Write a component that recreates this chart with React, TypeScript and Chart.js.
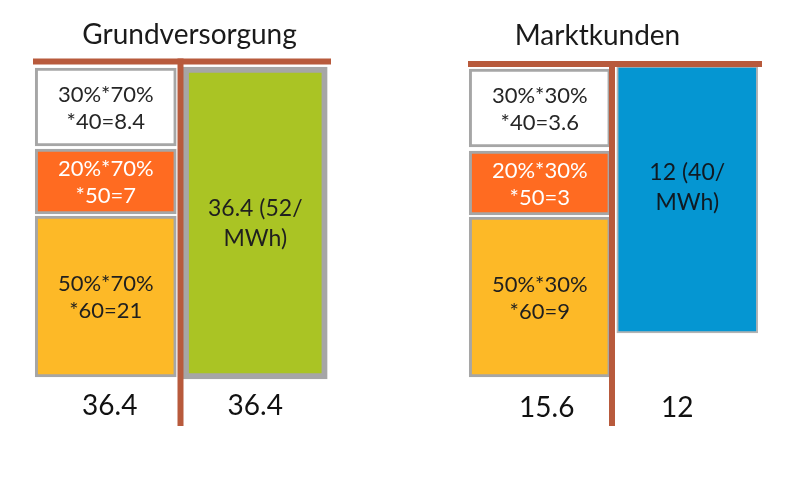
import React, { useEffect, useRef } from "react";
import { Chart, registerables } from "chart.js";

Chart.register(...registerables);

// ---- data ----
const panelTitles = ["Grundversorgung", "Marktkunden"];
const customerShares = [70, 30]; // % of customers in each panel
const tariffShares = [30, 20, 50]; // % share of each tariff band
const tariffPrices = [40, 50, 60]; // price per band
const grundSegmentValues = [8.4, 7, 21];
const marktSegmentValues = [3.6, 3, 9];
const flatValues = [36.4, 12];
const flatPrices = [52, 40];
const grundBottomLabels = ["36.4", "36.4"];
const marktBottomLabels = ["15.6", "12"];
// drawn box extents [top, bottom] in the diagram's own height units (boxes are not to scale)
const grundSegmentSpans: [number, number][] = [[2, 80], [83, 148], [150, 311]];
const marktSegmentSpans: [number, number][] = [[3, 81], [85, 149], [151, 311]];
const grundFlatSpan: [number, number] = [1, 313];
const marktFlatSpan: [number, number] = [0, 267];
const diagramHeight = 314;

// ---- styles ----
const W = 787;
const H = 497;
const FONT = "Lato, 'Open Sans', sans-serif";
const segColors = ["#ffffff", "#ff6b21", "#fdb927"];
const segTextColors = ["#262626", "#ffffff", "#1f1f1f"];
const flatColors = ["#aac424", "#0596d2"];
const flatTextColors = ["#1f1f1f", "#101a22"];
const brown = "#b85a3c";
const boxBorder = "#a6a6a6";

type PanelCfg = {
  title: string;
  titleDx: number;
  titleY: number;
  padLeft: number;
  padRight: number;
  lineY: number;
  vLineDx: number;
  segSpans: [number, number][];
  segLabels: string[][];
  flatSpan: [number, number];
  flatLabel: string[];
  flatColor: string;
  flatTextColor: string;
  flatBorder: number;
  flatBorderColor: string;
  flatThickness: number;
  flatLabelDy: number;
  bottom: string[];
  bottomDx: number[];
  bottomY: number;
};

function segLabelLines(panel: number, values: number[]): string[][] {
  return values.map((v, i) => [
    `${tariffShares[i]}%*${customerShares[panel]}%`,
    `*${tariffPrices[i]}=${v}`,
  ]);
}

const panels: PanelCfg[] = [
  {
    title: panelTitles[0],
    titleDx: 9,
    titleY: 35,
    padLeft: 31,
    padRight: W - 330,
    lineY: 61.5,
    vLineDx: 0,
    segSpans: grundSegmentSpans,
    segLabels: segLabelLines(0, grundSegmentValues),
    flatSpan: grundFlatSpan,
    flatLabel: [`${flatValues[0]} (${flatPrices[0]}/`, "MWh)"],
    flatColor: flatColors[0],
    flatTextColor: flatTextColors[0],
    flatBorder: 6,
    flatBorderColor: "#a6a6a6",
    flatThickness: 144,
    flatLabelDy: 0,
    bottom: grundBottomLabels,
    bottomDx: [4, 0],
    bottomY: 406,
  },
  {
    title: panelTitles[1],
    titleDx: -16,
    titleY: 36,
    padLeft: 466,
    padRight: W - 761,
    lineY: 64,
    vLineDx: -1.5,
    segSpans: marktSegmentSpans,
    segLabels: segLabelLines(1, marktSegmentValues),
    flatSpan: marktFlatSpan,
    flatLabel: [`${flatValues[1]} (${flatPrices[1]}/`, "MWh)"],
    flatColor: flatColors[1],
    flatTextColor: flatTextColors[1],
    flatBorder: 2,
    flatBorderColor: "#b4b4b4",
    flatThickness: 141,
    flatLabelDy: -13,
    bottom: marktBottomLabels,
    bottomDx: [7, -10],
    bottomY: 408,
  },
];

function makeChart(canvas: HTMLCanvasElement, p: PanelCfg): Chart {
  const datasets: any[] = p.segSpans.map((span, i) => ({
    data: [span, null],
    backgroundColor: segColors[i],
    borderColor: boxBorder,
    borderWidth: 3,
    borderSkipped: false,
    grouped: false,
    barThickness: 141,
  }));
  datasets.push({
    data: [null, p.flatSpan],
    backgroundColor: p.flatColor,
    borderColor: p.flatBorderColor,
    borderWidth: p.flatBorder,
    borderSkipped: false,
    grouped: false,
    barThickness: p.flatThickness,
  });

  const textPlugin = {
    id: "diagramText",
    afterDatasetsDraw(chart: any) {
      const ctx = chart.ctx as CanvasRenderingContext2D;
      const area = chart.chartArea;
      ctx.save();
      // T-shaped brown lines
      ctx.strokeStyle = brown;
      ctx.lineCap = "butt";
      ctx.lineWidth = 6;
      ctx.beginPath();
      ctx.moveTo(area.left + 2, p.lineY);
      ctx.lineTo(area.right + 1, p.lineY);
      ctx.stroke();
      const vx = (area.left + area.right) / 2 + p.vLineDx;
      ctx.beginPath();
      ctx.moveTo(vx, p.lineY - 3);
      ctx.lineTo(vx, 426);
      ctx.stroke();

      ctx.textAlign = "center";
      ctx.textBaseline = "middle";
      // labels inside boxes
      chart.data.datasets.forEach((ds: any, di: number) => {
        const meta = chart.getDatasetMeta(di);
        meta.data.forEach((el: any, idx: number) => {
          if (ds.data[idx] == null) return;
          const isFlat = di === p.segSpans.length;
          const lines = isFlat ? p.flatLabel : p.segLabels[di];
          const color = isFlat ? p.flatTextColor : segTextColors[di];
          const cx = el.x;
          const cy = (el.y + el.base) / 2 + (isFlat ? p.flatLabelDy : 0) + 1;
          const lh = isFlat ? 30 : 27;
          ctx.fillStyle = color;
          ctx.font = `${isFlat ? 23 : 22}px ${FONT}`;
          lines.forEach((t, li) => {
            ctx.fillText(t, cx, cy + (li - (lines.length - 1) / 2) * lh);
          });
        });
      });
      // title
      ctx.fillStyle = "#1a1a1a";
      ctx.font = `28px ${FONT}`;
      ctx.fillText(p.title, (area.left + area.right) / 2 + p.titleDx, p.titleY);
      // bottom totals
      ctx.fillStyle = "#111111";
      ctx.font = `28px ${FONT}`;
      const xs = chart.scales.x;
      p.bottom.forEach((t, i) => {
        ctx.fillText(t, xs.getPixelForValue(i) + p.bottomDx[i], p.bottomY);
      });
      ctx.restore();
    },
  };

  return new Chart(canvas, {
    type: "bar",
    data: { labels: ["links", "rechts"], datasets },
    options: {
      responsive: false,
      animation: false,
      layout: {
        padding: { left: p.padLeft, right: p.padRight, top: 66, bottom: H - 66 - diagramHeight },
      },
      plugins: { legend: { display: false }, tooltip: { enabled: false }, title: { display: false } },
      scales: {
        x: { type: "category", display: false, grid: { display: false } },
        y: { type: "linear", display: false, reverse: true, min: 0, max: diagramHeight, grid: { display: false } },
      },
    },
    plugins: [textPlugin],
  });
}

export default function App() {
  const ref1 = useRef<HTMLCanvasElement>(null);
  const ref2 = useRef<HTMLCanvasElement>(null);
  useEffect(() => {
    const c1 = makeChart(ref1.current!, panels[0]);
    const c2 = makeChart(ref2.current!, panels[1]);
    return () => {
      c1.destroy();
      c2.destroy();
    };
  }, []);
  const cs: React.CSSProperties = { position: "absolute", left: 0, top: 0, width: W, height: H };
  return (
    <div style={{ position: "absolute", left: 0, top: 0, width: W, height: H, background: "#ffffff" }}>
      <canvas ref={ref1} width={W} height={H} style={cs} />
      <canvas ref={ref2} width={W} height={H} style={cs} />
    </div>
  );
}
